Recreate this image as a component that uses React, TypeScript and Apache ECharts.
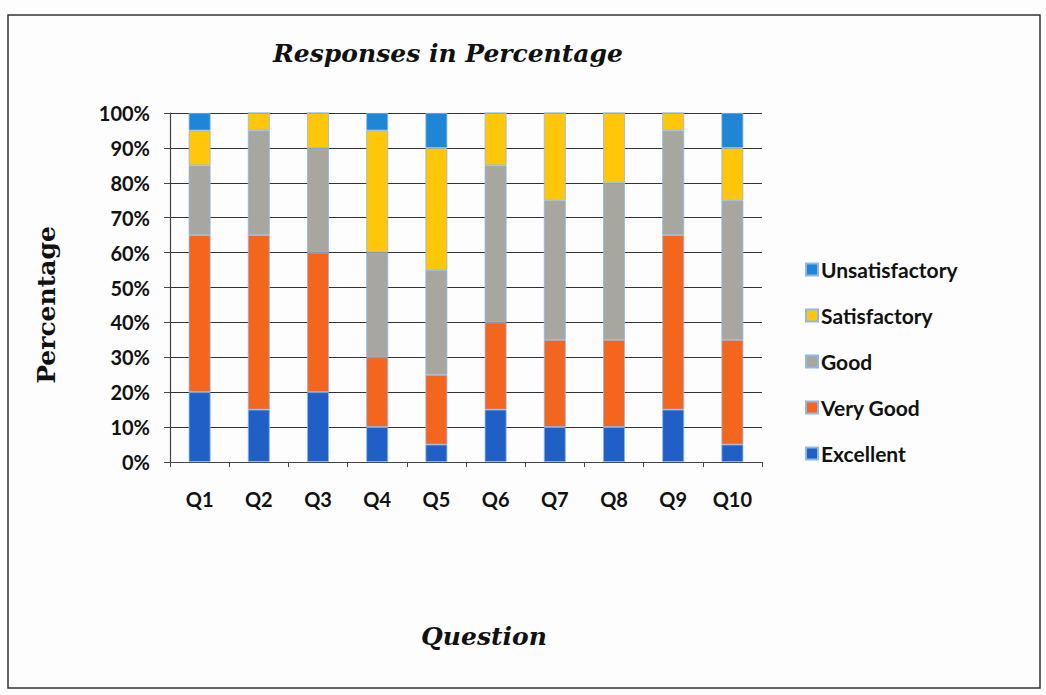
import React, { useEffect, useRef } from "react";
import * as echarts from "echarts";

const categories = ["Q1", "Q2", "Q3", "Q4", "Q5", "Q6", "Q7", "Q8", "Q9", "Q10"];
const excellent = [20, 15, 20, 10, 5, 15, 10, 10, 15, 5];
const veryGood = [45, 50, 40, 20, 20, 25, 25, 25, 50, 30];
const good = [20, 30, 30, 30, 30, 45, 40, 45, 30, 40];
const satisfactory = [10, 5, 10, 35, 35, 15, 25, 20, 5, 15];
const unsatisfactory = [5, 0, 0, 5, 10, 0, 0, 0, 0, 10];
const yTicks = ["0%", "10%", "20%", "30%", "40%", "50%", "60%", "70%", "80%", "90%", "100%"];

const seriesDefs = [
  { name: "Excellent", data: excellent, color: "#1f5fc6" },
  { name: "Very Good", data: veryGood, color: "#f4661e" },
  { name: "Good", data: good, color: "#a7a7a0" },
  { name: "Satisfactory", data: satisfactory, color: "#ffc60a" },
  { name: "Unsatisfactory", data: unsatisfactory, color: "#1f86d6" },
];

export default function App() {
  const ref = useRef<HTMLDivElement>(null);
  useEffect(() => {
    if (!ref.current) return;
    const chart = echarts.init(ref.current, null, { renderer: "svg" });
    const labelFont = { fontFamily: "Lato", fontWeight: "bold" as const, fontSize: 20, color: "#111" };
    const serifBold = { fontFamily: "DejaVu Serif", fontWeight: "bold" as const, fill: "#111" };
    chart.setOption({
      animation: false,
      backgroundColor: "#fdfdfd",
      graphic: [
        {
          type: "rect",
          shape: { x: 8, y: 15, width: 1032, height: 673 },
          style: { fill: "none", stroke: "#333", lineWidth: 1.5 },
        },
        {
          type: "text",
          x: 484,
          y: 636,
          style: {
            ...serifBold,
            text: "Question",
            fontStyle: "italic",
            fontSize: 25,
            align: "center",
            verticalAlign: "middle",
          },
        },
        {
          type: "text",
          x: 46,
          y: 305,
          rotation: Math.PI / 2,
          style: {
            ...serifBold,
            text: "Percentage",
            fontSize: 25,
            align: "center",
            verticalAlign: "middle",
          },
        },
      ],
      title: {
        text: "Responses in Percentage",
        left: 443,
        top: 36,
        textAlign: "center",
        textStyle: {
          fontFamily: "DejaVu Serif",
          fontStyle: "italic",
          fontWeight: "bold",
          fontSize: 25,
          color: "#111",
        },
      },
      legend: {
        orient: "vertical",
        left: 800,
        top: 254,
        itemWidth: 12,
        itemHeight: 12,
        itemGap: 25,
        icon: "rect",
        data: ["Unsatisfactory", "Satisfactory", "Good", "Very Good", "Excellent"],
        textStyle: { ...labelFont, fontSize: 21, padding: [0, 0, 0, -2] },
      },
      grid: { left: 170, right: 284, top: 113, bottom: 233, containLabel: false },
      xAxis: {
        type: "category",
        data: categories,
        axisLine: { lineStyle: { color: "#444", width: 1.2 } },
        axisTick: { show: true, length: 5, lineStyle: { color: "#444" } },
        axisLabel: { ...labelFont, margin: 27 },
      },
      yAxis: {
        type: "value",
        min: 0,
        max: 100,
        interval: 10,
        axisLine: { show: true, lineStyle: { color: "#444", width: 1.2 } },
        axisTick: { show: true, length: 6, lineStyle: { color: "#444" } },
        splitLine: { lineStyle: { color: "#333", width: 1.2 } },
        axisLabel: {
          ...labelFont,
          margin: 20,
          formatter: (v: number) => yTicks[Math.round(v / 10)],
        },
      },
      series: seriesDefs.map((s) => ({
        name: s.name,
        type: "bar",
        stack: "total",
        barWidth: "37%",
        data: s.data,
        itemStyle: { color: s.color, borderColor: "#8fb8ea", borderWidth: 0.8 },
      })),
    });
    return () => chart.dispose();
  }, []);
  return (
    <div
      ref={ref}
      style={{ position: "fixed", left: 0, top: 0, width: 1046, height: 695 }}
    />
  );
}
